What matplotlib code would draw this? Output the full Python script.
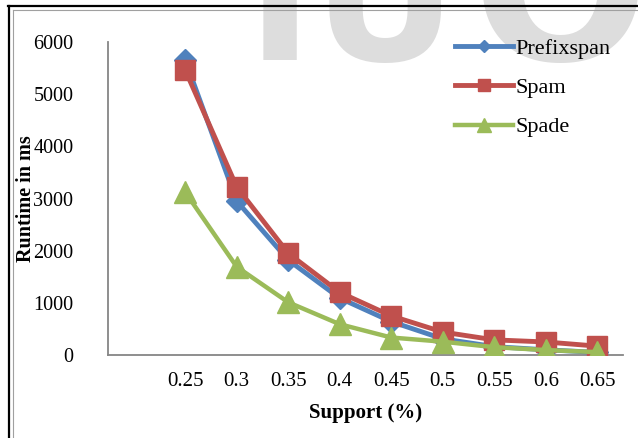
import matplotlib
matplotlib.use('Agg')
from matplotlib import pyplot as plt
from matplotlib.lines import Line2D

plt.rcParams['font.family'] = ['Liberation Serif', 'DejaVu Serif']

# runtime (ms) per minimum support
support = ['0.25', '0.3', '0.35', '0.4', '0.45', '0.5', '0.55', '0.6', '0.65']
prefixspan = [5650, 2950, 1820, 1090, 640, 310, 160, 100, 50]
spam = [5460, 3220, 1950, 1200, 750, 440, 290, 250, 170]
spade = [3120, 1690, 1010, 590, 335, 255, 150, 95, 55]

W, H = 638, 438
fig = plt.figure(figsize=(W / 100, H / 100), dpi=100)

# faint watermark letters behind the chart
for ch, xc, size in [('I', 280, 128), ('U', 385, 128), ('O', 560, 150)]:
    fig.text(xc / W, 1 - 60 / H, ch, ha='center', va='baseline',
             fontsize=size, color='#dddddd', family='DejaVu Sans',
             fontweight='bold', zorder=0)

# page border lines
fig.add_artist(Line2D([8 / W, 1], [1 - 6 / H, 1 - 6 / H], color='black', lw=1.6))
fig.add_artist(Line2D([9 / W, 9 / W], [0, 1 - 6 / H], color='black', lw=1.6))
fig.add_artist(Line2D([13 / W, 1], [1 - 10 / H, 1 - 10 / H], color='#a0a0a0', lw=0.8))
fig.add_artist(Line2D([13 / W, 13 / W], [0, 1 - 10 / H], color='#a0a0a0', lw=0.8))

ax = fig.add_axes([108 / W, 1 - 355 / H, 515 / W, 313 / H])
ax.patch.set_alpha(0)
ax.set_zorder(2)

x = range(1, len(support) + 1)
ax.plot(x, prefixspan, color='#4F81BD', lw=3.5, marker='D', ms=11,
        label='Prefixspan', zorder=3)
ax.plot(x, spam, color='#C0504D', lw=3.5, marker='s', ms=15,
        label='Spam', zorder=4)
ax.plot(x, spade, color='#9BBB59', lw=3.2, marker='^', ms=16,
        label='Spade', zorder=5)

ax.set_xlim(-0.5, 9.5)
ax.set_ylim(0, 6000)
ax.set_xticks(list(x))
ax.set_xticklabels(support)
ax.set_yticks(range(0, 6001, 1000))
ax.tick_params(length=0, labelsize=15)
ax.tick_params(axis='y', labelsize=14.5, pad=25)
ax.tick_params(axis='x', pad=12)

for side in ['top', 'right']:
    ax.spines[side].set_visible(False)
for side in ['left', 'bottom']:
    ax.spines[side].set_color('#868686')
    ax.spines[side].set_linewidth(1.3)

ax.set_xlabel('Support (%)', fontsize=15, fontweight='bold')
ax.xaxis.set_label_coords(0.5, -(413 - 355) / 313)
ax.set_ylabel('Runtime in ms', fontsize=14.5, fontweight='bold')
ax.yaxis.set_label_coords(-(108 - 26) / 515, 0.5)
ax.xaxis.label.set_va('center')
ax.yaxis.label.set_va('center')

leg = ax.legend(loc='upper left', bbox_to_anchor=(455 / W, 1 - 38 / H),
                bbox_transform=fig.transFigure, frameon=False, fontsize=16,
                handlelength=2.6, handletextpad=0.12, labelspacing=0.85,
                borderpad=0, borderaxespad=0, markerscale=0.6)

plt.savefig('out.png', dpi=100)
